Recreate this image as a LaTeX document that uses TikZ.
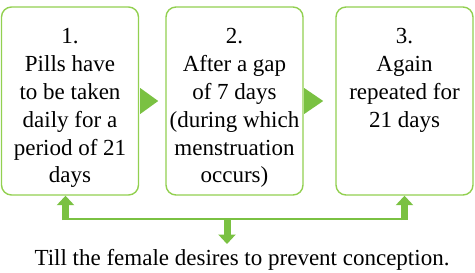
\documentclass[tikz,border=0pt]{standalone}
\usepackage{fontspec}
\setmainfont{Liberation Serif}
\usetikzlibrary{arrows.meta,calc}
\definecolor{boxc}{RGB}{146,208,80}
\definecolor{arrc}{RGB}{122,193,66}
\tikzset{
  stepbox/.style={draw=boxc, line width=1.4pt, rounded corners=10pt, minimum width=137pt, minimum height=188pt, inner sep=0pt},
  boxtext/.style={anchor=north, align=center, inner sep=0pt, font=\fontsize{23}{27.8}\selectfont},
  joinline/.style={draw=arrc, line width=2pt},
  blockarrow/.style={draw=arrc, line width=7pt, -{Triangle[width=17pt,length=9.5pt]}},
  tri/.style={fill=arrc}
}
\begin{document}
\begin{tikzpicture}[x=1pt,y=-1pt]
\useasboundingbox (0,0) rectangle (475,273);
\node[stepbox] (b1) at (70,101) {};
\node[stepbox] (b2) at (234.5,101) {};
\node[stepbox] (b3) at (404.5,101) {};
\node[boxtext] (t1) at (70,28.5) {1.\\Pills have\\to be taken\\daily for a\\period of 21\\days};
\node[boxtext] (t2) at (234.5,28.5) {2.\\After a gap\\of 7 days\\(during which\\menstruation\\occurs)};
\node[boxtext] (t3) at (404.5,28.5) {3.\\Again\\repeated for\\21 days};
\fill[tri] ([xshift=1pt]b1.east) ++(0,-13) -- ++(18,13) -- ++(-18,13) -- cycle;
\fill[tri] ([xshift=0.5pt]b2.east) ++(0,-13) -- ++(19,13) -- ++(-19,13) -- cycle;
\node[anchor=base, inner sep=0pt, font=\fontsize{23}{27.8}\selectfont] (goal) at (242,265) {Till the female desires to prevent conception.};
\coordinate (j1) at (65.5,219);
\coordinate (j2) at (404.5,219);
\coordinate (jm) at (227,219);
\coordinate (jmtip) at (227,244);
\draw[joinline] (j1) -- (j2);
\draw[blockarrow] ([yshift=-1pt]j1) -- (j1 |- b1.south);
\draw[blockarrow] ([yshift=-1pt]j2) -- (j2 |- b3.south);
\draw[blockarrow] ([yshift=1pt]jm) -- (jmtip);
\end{tikzpicture}
\end{document}
